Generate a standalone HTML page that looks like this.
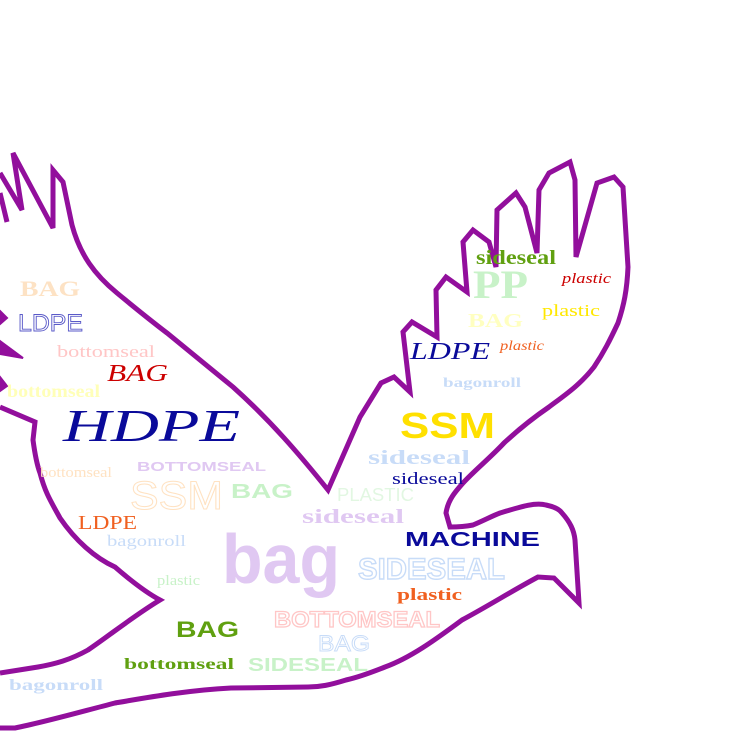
<!DOCTYPE html>
<html><head><meta charset="utf-8"><style>
html,body{margin:0;padding:0;background:#fff;width:739px;height:739px;overflow:hidden}
svg{display:block}
text{white-space:pre}
.s{font-family:"Liberation Serif",serif}
.a{font-family:"Liberation Sans",sans-serif}
.b{font-weight:bold}
.i{font-style:italic}
</style></head><body>
<svg width="739" height="739" viewBox="0 0 739 739" xmlns="http://www.w3.org/2000/svg">
<g fill="none" stroke="#920f9c" stroke-width="5" stroke-linejoin="miter" stroke-linecap="butt">
<path d="M0,193 L7,222 M0,173 L22,210 L13,153 L53,228 L53,170 L63,182 L72,225 C80,255 95,275 117,293 C140,312 150,320 167,333 L233,387 C270,420 300,455 328,490 L360,417 L381,383 L394,377 L410,392 L403,332 L412,322 L437,337 L436,290 L446,277 L467,292 L463,242 L473,230 L489,242 L496,267 L497,210 L516,193 L525,207 L537,253 L539,190 L549,173 L570,162 L575,180 L576,257 L597,183 L614,177 L623,187 L628,267 C627,290 624,305 618,323 C610,340 604,352 594,367 C580,385 565,395 549,407 C530,420 518,430 504,443 C490,458 475,470 463,483 C455,492 448,500 446,513 L450,527 C460,527 468,526 473,525 C485,520 492,516 500,513 C520,507 535,502 546,505 C555,507 560,510 562,513 C570,522 574,530 575,540 L579,603 L554,578 L538,577 C510,592 490,605 462,620 C435,640 410,658 385,667 C365,675 355,678 346,680 C330,685 320,687 308,687 L231,688 C190,690 150,697 115,703 C80,712 45,722 15,728 L0,728"/>
<path d="M0,407 L35,422 L33,440 C35,455 37,465 40,473 C45,492 50,500 60,518 C75,540 95,558 115,567 C130,580 145,592 160,600 C135,615 110,635 88,650 C70,660 55,664 38,667 L0,673"/>
</g>
<g fill="#920f9c" stroke="#920f9c" stroke-width="2">
<polygon points="0,311 7,318 0,324"/>
<polygon points="0,341 23,358 0,354"/>
<polygon points="0,377 7,386 0,391"/>
</g>
<g>
<text class="s b" x="20" y="296" font-size="22" fill="#fde2c4" textLength="60" lengthAdjust="spacingAndGlyphs">BAG</text>
<text class="a" x="18" y="331" font-size="24" fill="none" stroke="#5a5ac8" stroke-width="0.9" textLength="65" lengthAdjust="spacingAndGlyphs">LDPE</text>
<text class="s" x="57" y="357" font-size="17" fill="#ffc6c6" textLength="98" lengthAdjust="spacingAndGlyphs">bottomseal</text>
<text class="s i" x="107" y="381" font-size="24" fill="#cc0000" textLength="61" lengthAdjust="spacingAndGlyphs">BAG</text>
<text class="s b" x="7" y="397" font-size="18" fill="#ffffb8" textLength="93" lengthAdjust="spacingAndGlyphs">bottomseal</text>
<text class="s i" x="63" y="441" font-size="46" fill="#0a0a9a" textLength="177" lengthAdjust="spacingAndGlyphs">HDPE</text>
<text class="s" x="40" y="477" font-size="15" fill="#ffe2c2" textLength="72" lengthAdjust="spacingAndGlyphs">bottomseal</text>
<text class="a b" x="137" y="471" font-size="13" fill="#e0c8f2" textLength="129" lengthAdjust="spacingAndGlyphs">BOTTOMSEAL</text>
<text class="a" x="130" y="509" font-size="40" fill="none" stroke="#ffe2c2" stroke-width="1" textLength="93" lengthAdjust="spacingAndGlyphs">SSM</text>
<text class="a b" x="231" y="498" font-size="20" fill="#c8f2c8" textLength="62" lengthAdjust="spacingAndGlyphs">BAG</text>
<text class="a" x="337" y="501" font-size="18" fill="#e2f7e2" textLength="77" lengthAdjust="spacingAndGlyphs">PLASTIC</text>
<text class="s b" x="302" y="523" font-size="20" fill="#e0c8f2" textLength="102" lengthAdjust="spacingAndGlyphs">sideseal</text>
<text class="s" x="78" y="529" font-size="20" fill="#f06020" textLength="59" lengthAdjust="spacingAndGlyphs">LDPE</text>
<text class="s" x="107" y="546" font-size="16" fill="#c8dcf8" textLength="79" lengthAdjust="spacingAndGlyphs">bagonroll</text>
<text class="a b" x="222" y="583" font-size="70" fill="#e0c8f2" textLength="118" lengthAdjust="spacingAndGlyphs">bag</text>
<text class="a b" x="405" y="546" font-size="20" fill="#0a0a9a" textLength="135" lengthAdjust="spacingAndGlyphs">MACHINE</text>
<text class="a b" x="358" y="579" font-size="30" fill="#fff" stroke="#c8dcf8" stroke-width="1.4" textLength="147" lengthAdjust="spacingAndGlyphs">SIDESEAL</text>
<text class="s" x="157" y="585" font-size="15" fill="#c8f2c8" textLength="43" lengthAdjust="spacingAndGlyphs">plastic</text>
<text class="s b" x="397" y="600" font-size="17" fill="#f06020" textLength="65" lengthAdjust="spacingAndGlyphs">plastic</text>
<text class="a b" x="176" y="637" font-size="22" fill="#60a010" textLength="63" lengthAdjust="spacingAndGlyphs">BAG</text>
<text class="a b" x="274" y="627" font-size="22" fill="#fff" stroke="#ffc6c6" stroke-width="1.2" textLength="166" lengthAdjust="spacingAndGlyphs">BOTTOMSEAL</text>
<text class="a" x="318" y="651" font-size="22" fill="none" stroke="#c8dcf8" stroke-width="0.9" textLength="52" lengthAdjust="spacingAndGlyphs">BAG</text>
<text class="s b" x="124" y="669" font-size="16" fill="#60a010" textLength="110" lengthAdjust="spacingAndGlyphs">bottomseal</text>
<text class="a b" x="248" y="671" font-size="18" fill="#c8f2c8" textLength="120" lengthAdjust="spacingAndGlyphs">SIDESEAL</text>
<text class="s b" x="9" y="690" font-size="16" fill="#c8dcf8" textLength="94" lengthAdjust="spacingAndGlyphs">bagonroll</text>
<text class="s b" x="476" y="264" font-size="20" fill="#60a010" textLength="80" lengthAdjust="spacingAndGlyphs">sideseal</text>
<text class="s b" x="473" y="298" font-size="40" fill="#c8f2c8" textLength="55" lengthAdjust="spacingAndGlyphs">PP</text>
<text class="s i" x="562" y="283" font-size="15" fill="#cc0000" textLength="49" lengthAdjust="spacingAndGlyphs">plastic</text>
<text class="s" x="542" y="316" font-size="17" fill="#ffe800" textLength="58" lengthAdjust="spacingAndGlyphs">plastic</text>
<text class="s b" x="468" y="327" font-size="20" fill="#ffffc0" textLength="55" lengthAdjust="spacingAndGlyphs">BAG</text>
<text class="s i" x="410" y="359" font-size="24" fill="#0a0a9a" textLength="80" lengthAdjust="spacingAndGlyphs">LDPE</text>
<text class="s i" x="500" y="350" font-size="14" fill="#f06020" textLength="44" lengthAdjust="spacingAndGlyphs">plastic</text>
<text class="s b" x="443" y="387" font-size="14" fill="#c8dcf8" textLength="78" lengthAdjust="spacingAndGlyphs">bagonroll</text>
<text class="a b" x="400" y="438" font-size="36" fill="#ffe000" textLength="95" lengthAdjust="spacingAndGlyphs">SSM</text>
<text class="s b" x="368" y="464" font-size="20" fill="#c8dcf8" textLength="102" lengthAdjust="spacingAndGlyphs">sideseal</text>
<text class="s" x="392" y="484" font-size="17" fill="#0a0a9a" textLength="72" lengthAdjust="spacingAndGlyphs">sideseal</text>
</g>
</svg>
</body></html>
